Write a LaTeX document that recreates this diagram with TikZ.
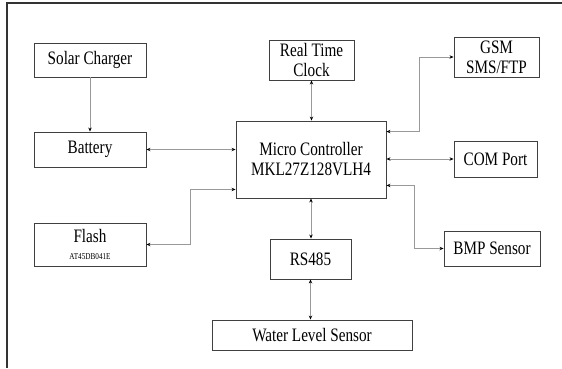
\documentclass[tikz,border=0pt]{standalone}
\usepackage{fontspec}
\setmainfont{Liberation Serif}[FakeStretch=0.8]
\usetikzlibrary{arrows.meta}
\begin{document}
\begin{tikzpicture}[x=1pt,y=-1pt,
  blk/.style={draw=black!75,line width=0.9pt,align=center,inner sep=0pt,
    font=\fontsize{19}{20}\selectfont},
  link/.style={draw=black!40,line width=0.8pt},
  both/.style={link,{Stealth[length=4pt,width=3.4pt,color=black]}-{Stealth[length=4pt,width=3.4pt,color=black]}},
  one/.style={link,-{Stealth[length=4pt,width=3.4pt,color=black]}}]
  \useasboundingbox (0,0) rectangle (562,368);
  \draw[black!80,line width=1.1pt] (7,368) -- (7,3) -- (562,3);
  \node[blk,minimum width=112,minimum height=34] (solar) at (90,60) {Solar Charger};
  \node[blk,minimum width=112,minimum height=35] (battery) at (90,149.5) {Battery};
  \node[blk,minimum width=112,minimum height=43] (flash) at (90,244.5)
    {Flash\\[-3pt]{\fontsize{9}{10}\selectfont AT45DB041E}};
  \node[blk,minimum width=150,minimum height=77] (mcu) at (311,159.5) {Micro Controller\\MKL27Z128VLH4};
  \node[blk,minimum width=85,minimum height=40] (rtc) at (311.5,60) {Real Time\\Clock};
  \node[blk,minimum width=81,minimum height=40] (rs) at (310.5,259) {RS485};
  \node[blk,minimum width=200,minimum height=30] (water) at (312,335) {Water Level Sensor};
  \node[blk,minimum width=85,minimum height=40] (gsm) at (496.5,57) {GSM\\SMS/FTP};
  \node[blk,minimum width=83,minimum height=36] (com) at (495.5,159) {COM Port};
  \node[blk,minimum width=96,minimum height=35] (bmp) at (492,248.5) {BMP Sensor};
  \draw[one] (solar.south) -- (solar.south |- battery.north);
  \draw[both] (battery.east) -- (battery.east -| mcu.west);
  \draw[both] (rtc.south) -- (rtc.south |- mcu.north);
  \draw[both] (mcu.south) -- (mcu.south |- rs.north);
  \draw[both] (rs.south) -- (rs.south |- water.north);
  \draw[both] (mcu.east |- com.west) -- (com.west);
  \draw[both] ([yshift=-11pt]mcu.north east) -| ([xshift=-34pt]gsm.west) -- (gsm.west);
  \draw[both] ([yshift=13pt]mcu.south east) -| ([xshift=-29pt]bmp.west) -- (bmp.west);
  \draw[both] (flash.east) -| ([xshift=-45pt,yshift=9pt]mcu.south west) -- ([yshift=9pt]mcu.south west);
\end{tikzpicture}
\end{document}
